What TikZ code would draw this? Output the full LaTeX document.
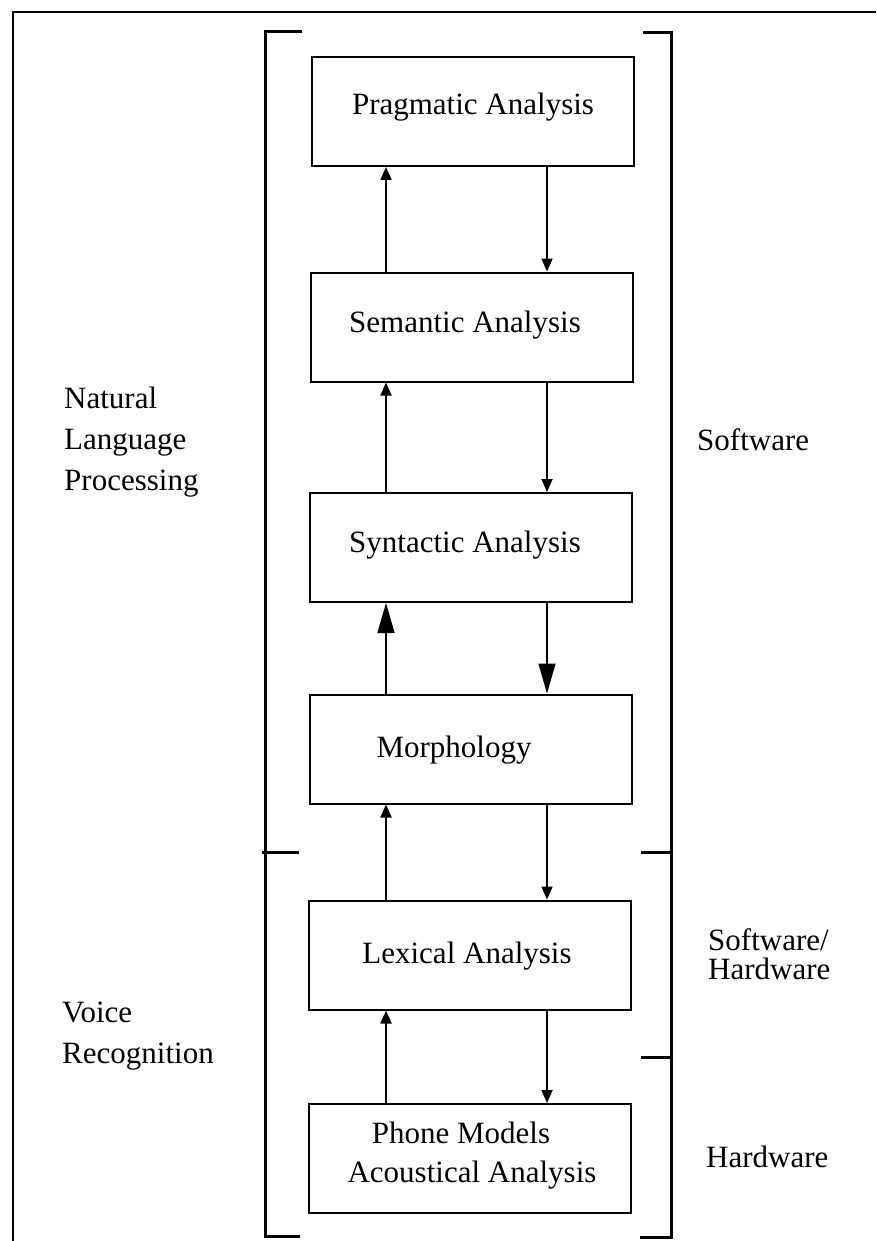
\documentclass[tikz,border=0pt]{standalone}
\usepackage{fontspec}
\setmainfont{Liberation Serif}
\usetikzlibrary{arrows.meta}
\begin{document}
\begin{tikzpicture}[x=1pt,y=-1pt,
  box/.style={draw, line width=2pt, minimum width=322pt, minimum height=109pt, inner sep=0pt},
  txt/.style={font=\fontsize{31}{37}\selectfont, inner sep=0pt, anchor=base},
  lab/.style={font=\fontsize{31}{41}\selectfont, inner sep=0pt, anchor=base west, align=left},
  arr/.style={line width=1.8pt, -{Triangle[length=13pt, width=11pt]}},
  bigarr/.style={line width=1.4pt, -{Triangle[length=30pt, width=17pt]}},
  frame/.style={line width=2pt},
  brk/.style={line width=3pt}]
\useasboundingbox (0,0) rectangle (876,1241);
% outer frame
\draw[frame] (876,12.5) -- (12.5,12.5) -- (12.5,1241);
% brackets
\draw[brk] (302,32) -- (265,32) -- (265,1236) -- (300,1236);
\draw[brk] (262,852) -- (299,852);
\draw[brk] (643,33) -- (671,33) -- (671,1237) -- (640,1237);
\draw[brk] (641,852) -- (671,852);
\draw[brk] (641,1057) -- (671,1057);
% boxes
\node[box] (prag) at (472.5,111.5) {};
\node[box] (sem) at (472,327) {};
\node[box] (syn) at (471,547.5) {};
\node[box] (mor) at (471,749) {};
\node[box] (lex) at (470,955) {};
\node[box] (pho) at (469.5,1158.5) {};
% box texts
\node[txt] (tprag) at (473,115) {Pragmatic Analysis};
\node[txt] (tsem) at (465,332) {Semantic Analysis};
\node[txt] (tsyn) at (465,552) {Syntactic Analysis};
\node[txt] (tmor) at (454,757) {Morphology};
\node[txt] (tlex) at (467,963) {Lexical Analysis};
\node[txt] (tpho1) at (461,1143) {Phone Models};
\node[txt] (tpho2) at (472,1182) {Acoustical Analysis};
% arrows
\coordinate (ux) at (386,0);
\coordinate (dx) at (547,0);
\draw[arr] (sem.north -| ux) -- (prag.south -| ux);
\draw[arr] (prag.south -| dx) -- (sem.north -| dx);
\draw[arr] (syn.north -| ux) -- (sem.south -| ux);
\draw[arr] (sem.south -| dx) -- (syn.north -| dx);
\draw[bigarr] (mor.north -| ux) -- (syn.south -| ux);
\draw[bigarr] (syn.south -| dx) -- (mor.north -| dx);
\draw[arr] (lex.north -| ux) -- (mor.south -| ux);
\draw[arr] (mor.south -| dx) -- (lex.north -| dx);
\draw[arr] (pho.north -| ux) -- (lex.south -| ux);
\draw[arr] (lex.south -| dx) -- (pho.north -| dx);
% side labels (base = baseline of last line)
\node[lab] (nlp) at (64,490) {Natural\\Language\\Processing};
\node[lab] (vr) at (62,1063) {Voice\\Recognition};
\node[lab] (sw) at (697,450) {Software};
\node[lab, font=\fontsize{31}{29}\selectfont] (swhw) at (708,979) {Software/\\Hardware};
\node[lab] (hw) at (706,1167) {Hardware};
\end{tikzpicture}
\end{document}
